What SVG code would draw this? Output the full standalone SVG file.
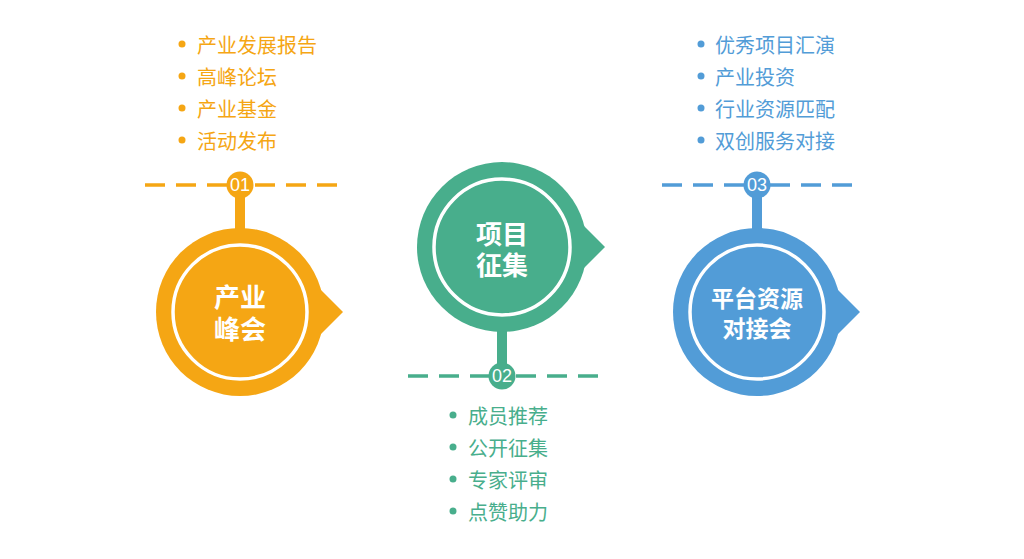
<svg xmlns="http://www.w3.org/2000/svg" width="1024" height="559" viewBox="0 0 1024 559">
<style>
.dash{stroke-width:3.5;stroke-dasharray:20 11;fill:none}
.ring{fill:none;stroke:#fff;stroke-width:3.5}
.title{font-family:"Noto Sans CJK SC","Noto Sans",sans-serif;font-weight:bold;fill:#fff;text-anchor:middle;dominant-baseline:central}
.num{font-family:"Liberation Sans",Arial,sans-serif;font-size:18px;fill:#fff;text-anchor:middle;dominant-baseline:central}
.item{font-family:"Noto Sans CJK SC","Noto Sans",sans-serif;font-size:20px;dominant-baseline:central}
.o{fill:#F5A614}.os{stroke:#F5A614}
.g{fill:#48AE8C}.gs{stroke:#48AE8C}
.b{fill:#529CD7}.bs{stroke:#529CD7}
</style>
<rect width="1024" height="559" fill="#fff"/>
<g id="connectors">
<line class="dash os" x1="145" y1="185" x2="240" y2="185"/>
<line class="dash os" x1="337" y1="185" x2="240" y2="185"/>
<rect class="o" x="235" y="185" width="10" height="50"/>
<line class="dash gs" x1="408" y1="376" x2="502" y2="376"/>
<line class="dash gs" x1="598" y1="376" x2="502" y2="376"/>
<rect class="g" x="497" y="310" width="10" height="66"/>
<line class="dash bs" x1="662" y1="185" x2="757" y2="185"/>
<line class="dash bs" x1="852" y1="185" x2="757" y2="185"/>
<rect class="b" x="752" y="185" width="10" height="50"/>
</g>
<g id="node-01">
<circle class="o" cx="240" cy="185" r="13.5"/>
<text class="num" x="240" y="185">01</text>
<circle class="o" cx="240" cy="312" r="84"/>
<polygon class="o" points="313,282 343,312 313,342"/>
<circle class="ring" cx="240" cy="312" r="67"/>
<text class="title" font-size="26"><tspan x="240" y="295">产业</tspan><tspan x="240" y="327">峰会</tspan></text>
</g>
<g id="node-02">
<circle class="g" cx="502" cy="376" r="13.5"/>
<text class="num" x="502" y="376">02</text>
<circle class="g" cx="502" cy="247" r="85"/>
<polygon class="g" points="575,217 605,247 575,277"/>
<circle class="ring" cx="502" cy="247" r="68"/>
<text class="title" font-size="26"><tspan x="502" y="232">项目</tspan><tspan x="502" y="263">征集</tspan></text>
</g>
<g id="node-03">
<circle class="b" cx="757" cy="185" r="13.5"/>
<text class="num" x="757" y="185">03</text>
<circle class="b" cx="757" cy="312" r="84"/>
<polygon class="b" points="830,282 860,312 830,342"/>
<circle class="ring" cx="757" cy="312" r="67"/>
<text class="title" font-size="23"><tspan x="757" y="297">平台资源</tspan><tspan x="757" y="327">对接会</tspan></text>
</g>
<g id="list-01">
<circle class="o" cx="182" cy="44" r="3.5"/>
<circle class="o" cx="182" cy="76" r="3.5"/>
<circle class="o" cx="182" cy="108" r="3.5"/>
<circle class="o" cx="182" cy="140" r="3.5"/>
<text class="item o" x="197" y="44">产业发展报告</text>
<text class="item o" x="197" y="76">高峰论坛</text>
<text class="item o" x="197" y="108">产业基金</text>
<text class="item o" x="197" y="140">活动发布</text>
</g>
<g id="list-02">
<circle class="g" cx="453" cy="415" r="3.5"/>
<circle class="g" cx="453" cy="447" r="3.5"/>
<circle class="g" cx="453" cy="479" r="3.5"/>
<circle class="g" cx="453" cy="511" r="3.5"/>
<text class="item g" x="468" y="415">成员推荐</text>
<text class="item g" x="468" y="447">公开征集</text>
<text class="item g" x="468" y="479">专家评审</text>
<text class="item g" x="468" y="511">点赞助力</text>
</g>
<g id="list-03">
<circle class="b" cx="701" cy="44" r="3.5"/>
<circle class="b" cx="701" cy="76" r="3.5"/>
<circle class="b" cx="701" cy="108" r="3.5"/>
<circle class="b" cx="701" cy="140" r="3.5"/>
<text class="item b" x="715" y="44">优秀项目汇演</text>
<text class="item b" x="715" y="76">产业投资</text>
<text class="item b" x="715" y="108">行业资源匹配</text>
<text class="item b" x="715" y="140">双创服务对接</text>
</g>
</svg>
